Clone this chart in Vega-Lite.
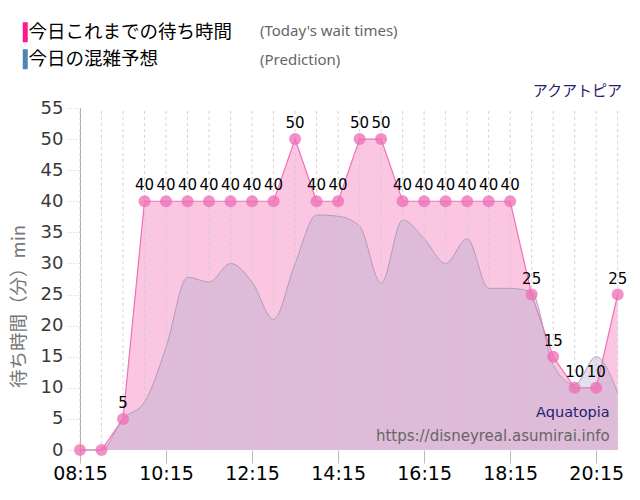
{
  "$schema": "https://vega.github.io/schema/vega-lite/v6.json",
  "width": 542,
  "height": 342,
  "autosize": "none",
  "padding": {"left": 80, "top": 108, "right": 18, "bottom": 50},
  "background": "#ffffff",
  "title": {
    "text": "アクアトピア",
    "anchor": "end",
    "frame": "group",
    "font": "Noto Sans CJK JP",
    "fontSize": 15,
    "fontWeight": "normal",
    "color": "#23226e",
    "offset": 6,
    "dy": 82
  },
  "datasets": {
    "waits": [
      {"t": "2024-01-01T08:15", "wait": 0, "pred": 0},
      {"t": "2024-01-01T08:45", "wait": 0, "pred": 0},
      {"t": "2024-01-01T09:15", "wait": 5, "pred": 5},
      {"t": "2024-01-01T09:45", "wait": 40, "pred": 7.7},
      {"t": "2024-01-01T10:15", "wait": 40, "pred": 16.5},
      {"t": "2024-01-01T10:45", "wait": 40, "pred": 27.8},
      {"t": "2024-01-01T11:15", "wait": 40, "pred": 27},
      {"t": "2024-01-01T11:45", "wait": 40, "pred": 30},
      {"t": "2024-01-01T12:15", "wait": 40, "pred": 27},
      {"t": "2024-01-01T12:45", "wait": 40, "pred": 21},
      {"t": "2024-01-01T13:15", "wait": 50, "pred": 30},
      {"t": "2024-01-01T13:45", "wait": 40, "pred": 37.8},
      {"t": "2024-01-01T14:15", "wait": 40, "pred": 37.6},
      {"t": "2024-01-01T14:45", "wait": 50, "pred": 36},
      {"t": "2024-01-01T15:15", "wait": 50, "pred": 26.8},
      {"t": "2024-01-01T15:45", "wait": 40, "pred": 37},
      {"t": "2024-01-01T16:15", "wait": 40, "pred": 34},
      {"t": "2024-01-01T16:45", "wait": 40, "pred": 30},
      {"t": "2024-01-01T17:15", "wait": 40, "pred": 34},
      {"t": "2024-01-01T17:45", "wait": 40, "pred": 26},
      {"t": "2024-01-01T18:15", "wait": 40, "pred": 26},
      {"t": "2024-01-01T18:45", "wait": 25, "pred": 25.4},
      {"t": "2024-01-01T19:15", "wait": 15, "pred": 13.7},
      {"t": "2024-01-01T19:45", "wait": 10, "pred": 10.5},
      {"t": "2024-01-01T20:15", "wait": 10, "pred": 15},
      {"t": "2024-01-01T20:45", "wait": 25, "pred": 9.2}
    ],
    "bands": [
      {"lo": 0, "hi": 5}, {"lo": 5, "hi": 10}, {"lo": 10, "hi": 15},
      {"lo": 15, "hi": 20}, {"lo": 20, "hi": 25}, {"lo": 25, "hi": 30},
      {"lo": 30, "hi": 35}, {"lo": 35, "hi": 40}, {"lo": 40, "hi": 45},
      {"lo": 45, "hi": 50}, {"lo": 50, "hi": 55}
    ],
    "series": [
      {"jp": "今日これまでの待ち時間", "en": "(Today's wait times)"},
      {"jp": "今日の混雑予想", "en": "(Prediction)"}
    ]
  },
  "data": {"name": "waits"},
  "encoding": {
    "x": {
      "field": "t",
      "type": "temporal",
      "scale": {
        "domain": [
          {"year": 2024, "month": 1, "date": 1, "hours": 8, "minutes": 15},
          {"year": 2024, "month": 1, "date": 1, "hours": 20, "minutes": 51}
        ]
      },
      "axis": {
        "title": null,
        "format": "%H:%M",
        "values": [
          {"year": 2024, "month": 1, "date": 1, "hours": 8, "minutes": 15},
          {"year": 2024, "month": 1, "date": 1, "hours": 10, "minutes": 15},
          {"year": 2024, "month": 1, "date": 1, "hours": 12, "minutes": 15},
          {"year": 2024, "month": 1, "date": 1, "hours": 14, "minutes": 15},
          {"year": 2024, "month": 1, "date": 1, "hours": 16, "minutes": 15},
          {"year": 2024, "month": 1, "date": 1, "hours": 18, "minutes": 15},
          {"year": 2024, "month": 1, "date": 1, "hours": 20, "minutes": 15}
        ],
        "grid": false,
        "domain": false,
        "tickSize": 13,
        "tickColor": "#bbbbbb",
        "labelFont": "DejaVu Sans",
        "labelFontSize": 19,
        "labelColor": "#000000",
        "labelPadding": 1,
        "labelFlush": false
      }
    },
    "y": {
      "type": "quantitative",
      "scale": {"domain": [0, 55], "nice": false},
      "axis": {
        "title": "待ち時間（分）min",
        "titleFont": "Noto Sans CJK JP",
        "titleFontSize": 18.5,
        "titleFontWeight": "normal",
        "titleColor": "#777777",
        "titleX": -62,
        "titleY": 198,
        "titleBaseline": "middle",
        "values": [0, 5, 10, 15, 20, 25, 30, 35, 40, 45, 50, 55],
        "grid": false,
        "domainColor": "#aaaaaa",
        "tickSize": 15,
        "tickColor": "#cccccc",
        "tickDash": [1, 2],
        "labelFont": "DejaVu Sans",
        "labelFontSize": 18,
        "labelColor": "#3a3a3a",
        "labelPadding": 2
      }
    }
  },
  "layer": [
    {
      "data": {"name": "bands"},
      "mark": {"type": "rect"},
      "encoding": {
        "x": {"datum": {"year": 2024, "month": 1, "date": 1, "hours": 8, "minutes": 15}, "type": "temporal"},
        "x2": {"datum": {"year": 2024, "month": 1, "date": 1, "hours": 20, "minutes": 51}},
        "y": {"field": "lo", "type": "quantitative"},
        "y2": {"field": "hi"},
        "fill": {
          "condition": {"test": "datum.lo % 10 == 5", "value": "#f1f1f1"},
          "value": "#f9f9f9"
        }
      }
    },
    {
      "mark": {
        "type": "area",
        "fill": "#f7a8d2",
        "fillOpacity": 0.65,
        "line": {"color": "#f26fb6", "strokeWidth": 1.2}
      },
      "encoding": {"y": {"field": "wait", "type": "quantitative"}}
    },
    {
      "mark": {
        "type": "area",
        "interpolate": "monotone",
        "fill": "#a8a6c6",
        "fillOpacity": 0.35,
        "line": {"color": "#b39cbc", "strokeWidth": 1}
      },
      "encoding": {"y": {"field": "pred", "type": "quantitative"}}
    },
    {
      "data": {"name": "bands"},
      "mark": {"type": "rule", "color": "#c8c8c8", "strokeDash": [1, 2], "strokeWidth": 1},
      "encoding": {"y": {"field": "hi", "type": "quantitative"}}
    },
    {
      "mark": {"type": "rule", "color": "#cccccc", "strokeDash": [3, 3], "strokeWidth": 1, "opacity": 0.85},
      "encoding": {"y": {"datum": 0}, "y2": {"datum": 55}}
    },
    {
      "mark": {"type": "circle", "size": 145, "color": "#ee6cb4", "opacity": 0.75},
      "encoding": {"y": {"field": "wait", "type": "quantitative"}}
    },
    {
      "transform": [{"filter": "datum.wait > 0"}],
      "mark": {
        "type": "text",
        "font": "DejaVu Sans",
        "fontSize": 15,
        "color": "#000000",
        "baseline": "bottom",
        "dy": -8
      },
      "encoding": {
        "y": {"field": "wait", "type": "quantitative"},
        "text": {"field": "wait", "type": "quantitative"}
      }
    },
    {
      "mark": {
        "type": "text",
        "font": "DejaVu Sans",
        "fontSize": 14.5,
        "fill": "#23226e",
        "align": "right",
        "baseline": "middle",
        "dx": -8
      },
      "encoding": {
        "x": {"aggregate": "max", "field": "t", "type": "temporal"},
        "y": {"datum": 6},
        "text": {"value": "Aquatopia"}
      }
    },
    {
      "mark": {
        "type": "text",
        "font": "DejaVu Sans",
        "fontSize": 15,
        "fill": "#666666",
        "align": "right",
        "baseline": "middle",
        "dx": -8
      },
      "encoding": {
        "x": {"aggregate": "max", "field": "t", "type": "temporal"},
        "y": {"datum": 2.25},
        "text": {"value": "https://disneyreal.asumirai.info"}
      }
    },
    {
      "data": {"name": "series"},
      "mark": {"type": "point", "filled": true, "opacity": 0},
      "encoding": {
        "color": {
          "field": "jp",
          "type": "nominal",
          "scale": {"domain": ["今日これまでの待ち時間", "今日の混雑予想"], "range": ["#ff1a8c", "#4a86b8"]},
          "legend": {
            "title": null,
            "orient": "none",
            "legendX": -64,
            "legendY": -85,
            "padding": 0,
            "symbolType": "M-0.5,-2H0.5V2H-0.5Z",
            "symbolSize": 100,
            "symbolOpacity": 1,
            "symbolStrokeWidth": 0,
            "labelFont": "Noto Sans CJK JP",
            "labelFontSize": 18.5,
            "labelColor": "#000000",
            "labelOffset": -6,
            "labelLimit": 400,
            "rowPadding": 6
          }
        },
        "shape": {
          "field": "en",
          "type": "nominal",
          "scale": {"domain": ["(Today's wait times)", "(Prediction)"]},
          "legend": {
            "title": null,
            "orient": "none",
            "legendX": 165,
            "legendY": -85,
            "padding": 0,
            "symbolSize": 0,
            "symbolOpacity": 0,
            "labelOffset": 0,
            "labelFont": "Noto Sans",
            "labelFontSize": 15,
            "labelColor": "#666666",
            "labelLimit": 400,
            "rowPadding": 13
          }
        }
      }
    }
  ],
  "config": {
    "view": {"stroke": null}
  }
}
